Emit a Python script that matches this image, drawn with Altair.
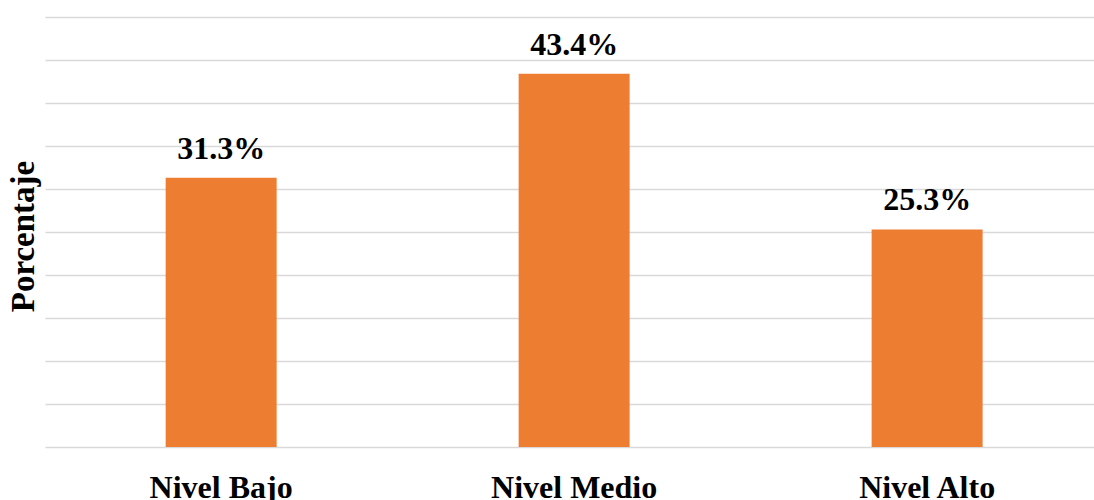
import altair as alt
import pandas as pd

# Distribution of levels (percent of respondents)
niveles = ["Nivel Bajo", "Nivel Medio", "Nivel Alto"]
porcentajes = [31.3, 43.4, 25.3]
etiquetas = ["31.3%", "43.4%", "25.3%"]

df = pd.DataFrame({"nivel": niveles, "pct": porcentajes, "label": etiquetas})

FONT = "Liberation Serif"

x = alt.X(
    "nivel:N",
    sort=niveles,
    scale=alt.Scale(paddingInner=0.6856, paddingOuter=0.3287, align=0.52),
    axis=alt.Axis(
        title=None,
        labelAngle=0,
        labelFont=FONT,
        labelFontSize=32,
        labelFontWeight="bold",
        labelColor="#000000",
        labelPadding=25,
        ticks=False,
        domain=False,
        grid=False,
    ),
)

y = alt.Y(
    "pct:Q",
    scale=alt.Scale(domain=[0, 50], nice=False),
    axis=alt.Axis(
        title="Porcentaje",
        titleFont=FONT,
        titleFontSize=33,
        titleFontWeight="bold",
        titleColor="#000000",
        titleAngle=-90,
        titleAlign="center",
        titleBaseline="alphabetic",
        titleX=-12,
        titleY=219,
        values=list(range(0, 55, 5)),
        labels=False,
        ticks=False,
        domain=False,
        grid=True,
        gridColor="#D9D9D9",
        gridWidth=1.3,
    ),
)

bars = alt.Chart(df).mark_bar(color="#ED7D31").encode(x=x, y=y)

text = alt.Chart(df).mark_text(
    font=FONT,
    fontSize=32,
    fontWeight="bold",
    color="#000000",
    baseline="alphabetic",
    dy=-19,
).encode(x=alt.X("nivel:N", sort=niveles), y="pct:Q", text="label:N")

chart = (
    alt.layer(bars, text)
    .properties(
        width=1049,
        height=430,
        autosize=alt.AutoSizeParams(type="none"),
        padding={"left": 45, "top": 17, "right": 0, "bottom": 53},
        background="#FFFFFF",
    )
    .configure_view(stroke=None)
)

chart.save("out.html", embed_options={"renderer": "svg", "actions": False})
